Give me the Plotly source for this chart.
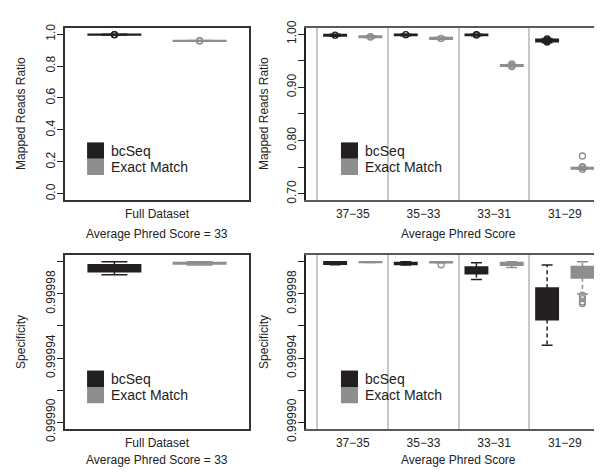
import plotly.graph_objects as go

# ---------------- data ----------------
series = ["bcSeq", "Exact Match"]
full_category = ["Full Dataset"]
phred_bins = ["37\u221235", "35\u221233", "33\u221231", "31\u221229"]

full_x_title = "Average Phred Score = 33"
bins_x_title = "Average Phred Score"
top_y_title = "Mapped Reads Ratio"
bottom_y_title = "Specificity"

# Mapped reads ratio, full dataset  (index 0 = bcSeq, 1 = Exact Match)
mr_full_lo = [0.995, 0.956]
mr_full_q1 = [0.996, 0.957]
mr_full_med = [0.997, 0.958]
mr_full_q3 = [0.998, 0.959]
mr_full_hi = [0.999, 0.960]
mr_full_out = [[0.9968, 0.9972], [0.9575, 0.9585]]

# Mapped reads ratio by Phred bin - bcSeq
mr_bc_lo = [0.996, 0.997, 0.997, 0.984]
mr_bc_q1 = [0.997, 0.998, 0.998, 0.986]
mr_bc_med = [0.998, 0.999, 0.999, 0.988]
mr_bc_q3 = [0.999, 0.9995, 0.9995, 0.990]
mr_bc_hi = [1.000, 1.000, 1.000, 0.992]
mr_bc_out = [[0.998], [0.999], [0.9985, 0.9992], [0.985, 0.987, 0.989, 0.991]]

# Mapped reads ratio by Phred bin - Exact Match
mr_em_lo = [0.993, 0.990, 0.939, 0.746]
mr_em_q1 = [0.994, 0.991, 0.940, 0.747]
mr_em_med = [0.995, 0.992, 0.941, 0.748]
mr_em_q3 = [0.996, 0.993, 0.942, 0.749]
mr_em_hi = [0.997, 0.994, 0.943, 0.750]
mr_em_out = [[0.9948, 0.9952], [0.992], [0.939, 0.941, 0.944], [0.746, 0.749, 0.751, 0.771]]

# Specificity, full dataset
sp_full_lo = [0.999992, 0.999998]
sp_full_q1 = [0.999994, 0.9999988]
sp_full_med = [0.999996, 0.9999992]
sp_full_q3 = [0.999998, 0.9999995]
sp_full_hi = [1.000000, 1.000000]
sp_full_out = [[], []]

# Specificity by Phred bin - bcSeq
sp_bc_lo = [0.9999982, 0.9999980, 0.9999890, 0.9999480]
sp_bc_q1 = [0.9999986, 0.9999985, 0.9999927, 0.9999640]
sp_bc_med = [0.9999993, 0.9999990, 0.9999950, 0.9999750]
sp_bc_q3 = [0.9999999, 0.9999995, 0.9999967, 0.9999836]
sp_bc_hi = [1.0000000, 1.0000000, 0.9999995, 0.9999980]
sp_bc_out = [[], [], [], []]

# Specificity by Phred bin - Exact Match
sp_em_lo = [0.9999996, 0.9999995, 0.9999965, 0.9999800]
sp_em_q1 = [0.9999997, 0.9999996, 0.9999980, 0.9999900]
sp_em_med = [0.9999998, 0.9999998, 0.9999990, 0.9999940]
sp_em_q3 = [0.9999999, 0.9999999, 0.9999995, 0.9999970]
sp_em_hi = [1.0000000, 1.0000000, 1.0000000, 1.0000000]
sp_em_out = [[], [0.9999982], [], [0.999979, 0.999977, 0.999975, 0.999974]]

mr_full_ticks = [0.0, 0.2, 0.4, 0.6, 0.8, 1.0]
mr_full_ticklabels = ["0.0", "0.2", "0.4", "0.6", "0.8", "1.0"]
mr_bin_ticks = [0.70, 0.75, 0.80, 0.85, 0.90, 0.95, 1.00]
mr_bin_ticklabels = ["0.70", "", "0.80", "", "0.90", "", "1.00"]
sp_ticks = [0.99990, 0.99992, 0.99994, 0.99996, 0.99998, 1.00000]
sp_ticklabels = ["0.99990", "", "0.99994", "", "0.99998", ""]

# ---------------- style ----------------
FONT = "Liberation Sans, Arial, Helvetica, sans-serif"
COLORS = ["#231f20", "#8e8e8e"]
TEXT = "#222222"
FULL_W = 0.61
BIN_W = 0.31

fig = go.Figure()


def add_series(xa, ya, xs, lo, q1, med, q3, hi, outs, color, width, name):
    fig.add_trace(go.Box(
        x=xs, q1=q1, median=med, q3=q3, lowerfence=q1, upperfence=q3,
        orientation="v", width=width, whiskerwidth=0,
        fillcolor=color, line=dict(color=color, width=2),
        name=name, showlegend=False, hoverinfo="skip",
        xaxis=xa, yaxis=ya))
    wx, wy, cx, cy = [], [], [], []
    for x, l, a, b, h in zip(xs, lo, q1, q3, hi):
        wx += [x, x, None, x, x, None]
        wy += [b, h, None, a, l, None]
        cx += [x - width / 4, x + width / 4, None, x - width / 4, x + width / 4, None]
        cy += [h, h, None, l, l, None]
    fig.add_trace(go.Scatter(x=wx, y=wy, mode="lines",
                             line=dict(color=color, width=1.5, dash="4px,3px"),
                             showlegend=False, hoverinfo="skip", xaxis=xa, yaxis=ya))
    fig.add_trace(go.Scatter(x=cx, y=cy, mode="lines",
                             line=dict(color=color, width=1.5),
                             showlegend=False, hoverinfo="skip", xaxis=xa, yaxis=ya))
    ox, oy = [], []
    for x, o in zip(xs, outs):
        ox += [x] * len(o)
        oy += list(o)
    if ox:
        fig.add_trace(go.Scatter(x=ox, y=oy, mode="markers",
                                 marker=dict(symbol="circle-open", size=6, color=color,
                                             line=dict(width=1.3, color=color)),
                                 showlegend=False, hoverinfo="skip", xaxis=xa, yaxis=ya))


# full-dataset panels: bcSeq at 1, Exact Match at 2
full_pos = [[1], [2]]
full_center = [1.5]
bin_centers = list(range(1, len(phred_bins) + 1))
bin_pos = [[c - 0.25 for c in bin_centers], [c + 0.25 for c in bin_centers]]
bin_edges = [c - 0.5 for c in bin_centers] + [bin_centers[-1] + 0.5]

for s in range(2):
    add_series("x", "y", full_pos[s], [mr_full_lo[s]], [mr_full_q1[s]], [mr_full_med[s]],
               [mr_full_q3[s]], [mr_full_hi[s]], [mr_full_out[s]], COLORS[s], FULL_W, series[s])
    add_series("x3", "y3", full_pos[s], [sp_full_lo[s]], [sp_full_q1[s]], [sp_full_med[s]],
               [sp_full_q3[s]], [sp_full_hi[s]], [sp_full_out[s]], COLORS[s], FULL_W, series[s])

add_series("x2", "y2", bin_pos[0], mr_bc_lo, mr_bc_q1, mr_bc_med, mr_bc_q3, mr_bc_hi, mr_bc_out,
           COLORS[0], BIN_W, series[0])
add_series("x2", "y2", bin_pos[1], mr_em_lo, mr_em_q1, mr_em_med, mr_em_q3, mr_em_hi, mr_em_out,
           COLORS[1], BIN_W, series[1])
add_series("x4", "y4", bin_pos[0], sp_bc_lo, sp_bc_q1, sp_bc_med, sp_bc_q3, sp_bc_hi, sp_bc_out,
           COLORS[0], BIN_W, series[0])
add_series("x4", "y4", bin_pos[1], sp_em_lo, sp_em_q1, sp_em_med, sp_em_q3, sp_em_hi, sp_em_out,
           COLORS[1], BIN_W, series[1])

W, H = 602, 475
left_dom = [57 / W, 241 / W]
right_dom = [298 / W, 1.0]
top_dom = [1 - 193.3 / H, 1 - 13.3 / H]
bot_dom = [1 - 431.7 / H, 1 - 251 / H]

tickfont = dict(family=FONT, size=12, color=TEXT)
titlefont = dict(family=FONT, size=12, color=TEXT)


def xaxis_cfg(dom, anchor, rng, tickvals, ticktext, box):
    cfg = dict(domain=dom, anchor=anchor, range=rng, tickmode="array",
               tickvals=tickvals, ticktext=ticktext, ticks="", ticklabelstandoff=2,
               tickfont=tickfont, showgrid=False,
               zeroline=False, showline=True, mirror=True, linewidth=1.5)
    if box:
        cfg["linecolor"] = "#333333"
    else:
        cfg["linecolor"] = "#5a5a5a"
        cfg["minor"] = dict(tickmode="array", tickvals=bin_edges, showgrid=True,
                            gridcolor="#c8c8c8", gridwidth=1.5, ticks="")
    return cfg


def yaxis_cfg(dom, anchor, rng, tickvals, ticktext, box):
    return dict(domain=dom, anchor=anchor, range=rng, tickmode="array",
                tickvals=tickvals, ticktext=ticktext, ticks="outside", ticklen=6,
                tickcolor="#222222", tickwidth=1, tickangle=-90, tickfont=tickfont,
                ticklabelstandoff=-3,
                showgrid=False, zeroline=False, showline=True, mirror=box,
                linecolor="#222222" if not box else "#333333", linewidth=1.5)


fig.update_layout(
    width=W, height=H, margin=dict(l=0, r=0, t=0, b=0),
    plot_bgcolor="white", paper_bgcolor="white", boxmode="overlay", showlegend=False,
    font=dict(family=FONT, size=12, color=TEXT),
    xaxis=xaxis_cfg(left_dom, "y", [0.42, 2.58], full_center, full_category, True),
    yaxis=yaxis_cfg(top_dom, "x", [-0.04, 1.04], mr_full_ticks, mr_full_ticklabels, True),
    xaxis2=xaxis_cfg(right_dom, "y2", [0.338, 4.64], bin_centers, phred_bins, False),
    yaxis2=yaxis_cfg(top_dom, "x2", [0.688, 1.012], mr_bin_ticks, mr_bin_ticklabels, False),
    xaxis3=xaxis_cfg(left_dom, "y3", [0.42, 2.58], full_center, full_category, True),
    yaxis3=yaxis_cfg(bot_dom, "x3", [0.999896, 1.000004], sp_ticks, sp_ticklabels, True),
    xaxis4=xaxis_cfg(right_dom, "y4", [0.338, 4.64], bin_centers, phred_bins, False),
    yaxis4=yaxis_cfg(bot_dom, "x4", [0.999896, 1.000004], sp_ticks, sp_ticklabels, False),
)

shapes, annots = [], []

# axis titles (placed as text in paper space)
for text, xpx, ypx, ang in [
        (full_x_title, 149, 229, 0), (bins_x_title, 450, 229, 0),
        (full_x_title, 149, 465, 0), (bins_x_title, 450, 465, 0),
        (top_y_title, 13, 103.3, -90), (top_y_title, 256, 103.3, -90),
        (bottom_y_title, 13, 341.3, -90), (bottom_y_title, 256, 341.3, -90)]:
    annots.append(dict(text=text, xref="paper", yref="paper", x=xpx / W, y=1 - ypx / H,
                       xanchor="center", yanchor="middle", textangle=ang, showarrow=False,
                       font=titlefont))

# legends drawn inside each panel
for xr, yr, x0, x1, tx in [("x", "y", 0.12, 0.212, 0.239), ("x2", "y2", 0.115, 0.171, 0.187),
                           ("x3", "y3", 0.12, 0.212, 0.239), ("x4", "y4", 0.115, 0.171, 0.187)]:
    ys = [(0.24, 0.335), (0.146, 0.24)]
    for s in range(2):
        y0, y1 = ys[s]
        shapes.append(dict(type="rect", xref=xr + " domain", yref=yr + " domain",
                           x0=x0, x1=x1, y0=y0, y1=y1, fillcolor=COLORS[s],
                           line=dict(width=0), layer="above"))
        annots.append(dict(text=series[s], xref=xr + " domain", yref=yr + " domain",
                           x=tx, y=(y0 + y1) / 2, xanchor="left", yanchor="middle",
                           showarrow=False, font=dict(family=FONT, size=14, color=TEXT)))
fig.update_layout(shapes=shapes, annotations=annots)

fig.write_html("out.html")
